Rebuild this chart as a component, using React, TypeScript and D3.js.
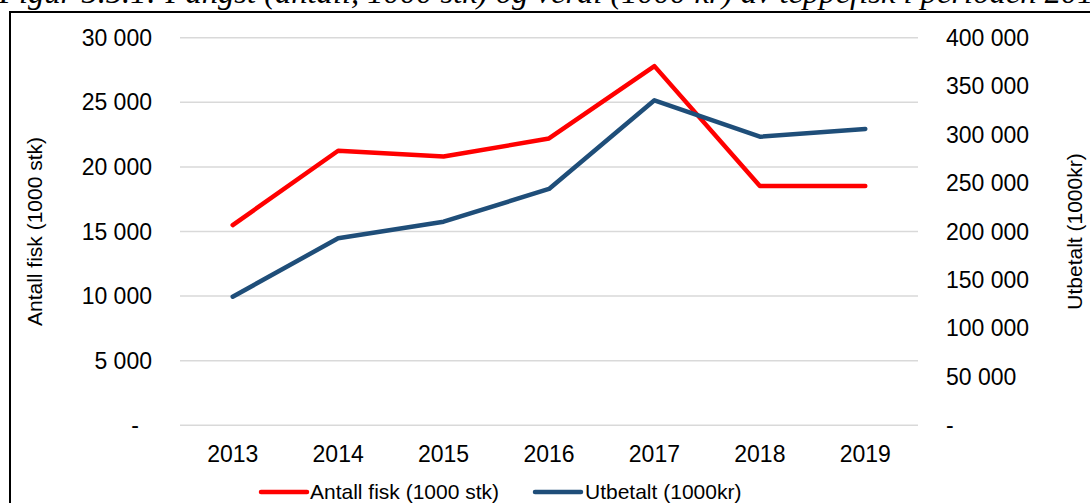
import React from 'react';
import * as d3 from 'd3';

const years = ['2013', '2014', '2015', '2016', '2017', '2018', '2019'];
const antallFisk = [15500, 21250, 20800, 22200, 27800, 18520, 18520];
const utbetalt = [132700, 193000, 210100, 243900, 335400, 297800, 305800];
const leftTicks = [0, 5000, 10000, 15000, 20000, 25000, 30000];
const rightTicks = [0, 50000, 100000, 150000, 200000, 250000, 300000, 350000, 400000];

const W = 1090;
const H = 503;
const plot = { left: 180, right: 918, top: 37.7, bottom: 425.3 };
const font = 'Liberation Sans, Arial, sans-serif';

const fmt = (v: number) => (v === 0 ? '-' : d3.format(',')(v).replace(/,/g, ' '));

export default function App() {
  const x = d3.scaleBand().domain(years).range([plot.left, plot.right]);
  const yL = d3.scaleLinear().domain([0, 30000]).range([plot.bottom, plot.top]);
  const yR = d3.scaleLinear().domain([0, 400000]).range([plot.bottom, plot.top]);
  const cx = (d: string) => (x(d) as number) + x.bandwidth() / 2;

  const redLine = d3.line<number>().x((_, i) => cx(years[i])).y((d) => yL(d));
  const blueLine = d3.line<number>().x((_, i) => cx(years[i])).y((d) => yR(d));

  return (
    <svg width={W} height={H} style={{ position: 'absolute', left: 0, top: 0, background: '#fff' }}>
      {/* title is cut off at the top edge, as in the source image */}
      <text x={-1} y={3} fontFamily="Liberation Serif, Times New Roman, serif" fontStyle="italic" fontSize={32.6}>
        Figur 5.5.1: Fangst (antall, 1000 stk) og verdi (1000 kr) av teppefisk i perioden 2013-2019
      </text>
      <rect x={10} y={12} width={1200} height={600} fill="none" stroke="#000" strokeWidth={2} />

      {leftTicks.map((t) => (
        <line key={t} x1={plot.left} x2={plot.right} y1={yL(t)} y2={yL(t)} stroke="#d9d9d9" strokeWidth={1.5} />
      ))}

      {leftTicks.map((t) => (
        <text key={t} x={t === 0 ? 139 : 152} y={yL(t)} dy="0.35em" textAnchor="end" fontFamily={font} fontSize={23}>
          {fmt(t)}
        </text>
      ))}
      {rightTicks.map((t) => (
        <text key={t} x={946} y={yR(t)} dy="0.35em" textAnchor="start" fontFamily={font} fontSize={23}>
          {fmt(t)}
        </text>
      ))}
      {years.map((d) => (
        <text key={d} x={cx(d)} y={454} dy="0.35em" textAnchor="middle" fontFamily={font} fontSize={23}>
          {d}
        </text>
      ))}

      <text transform={`translate(35, ${(plot.top + plot.bottom) / 2}) rotate(-90)`} dy="0.35em" textAnchor="middle" fontFamily={font} fontSize={21}>
        Antall fisk (1000 stk)
      </text>
      <text transform={`translate(1075, ${(plot.top + plot.bottom) / 2}) rotate(-90)`} dy="0.35em" textAnchor="middle" fontFamily={font} fontSize={21}>
        Utbetalt (1000kr)
      </text>

      <path d={redLine(antallFisk) || ''} fill="none" stroke="#ff0000" strokeWidth={4.5} strokeLinecap="round" strokeLinejoin="round" />
      <path d={blueLine(utbetalt) || ''} fill="none" stroke="#1f4e79" strokeWidth={4.5} strokeLinecap="round" strokeLinejoin="round" />

      <g fontFamily={font} fontSize={21}>
        <line x1={261} x2={307} y1={492} y2={492} stroke="#ff0000" strokeWidth={4.5} strokeLinecap="round" />
        <text x={310} y={492} dy="0.35em">Antall fisk (1000 stk)</text>
        <line x1={535} x2={581} y1={492} y2={492} stroke="#1f4e79" strokeWidth={4.5} strokeLinecap="round" />
        <text x={585} y={492} dy="0.35em">Utbetalt (1000kr)</text>
      </g>
    </svg>
  );
}
